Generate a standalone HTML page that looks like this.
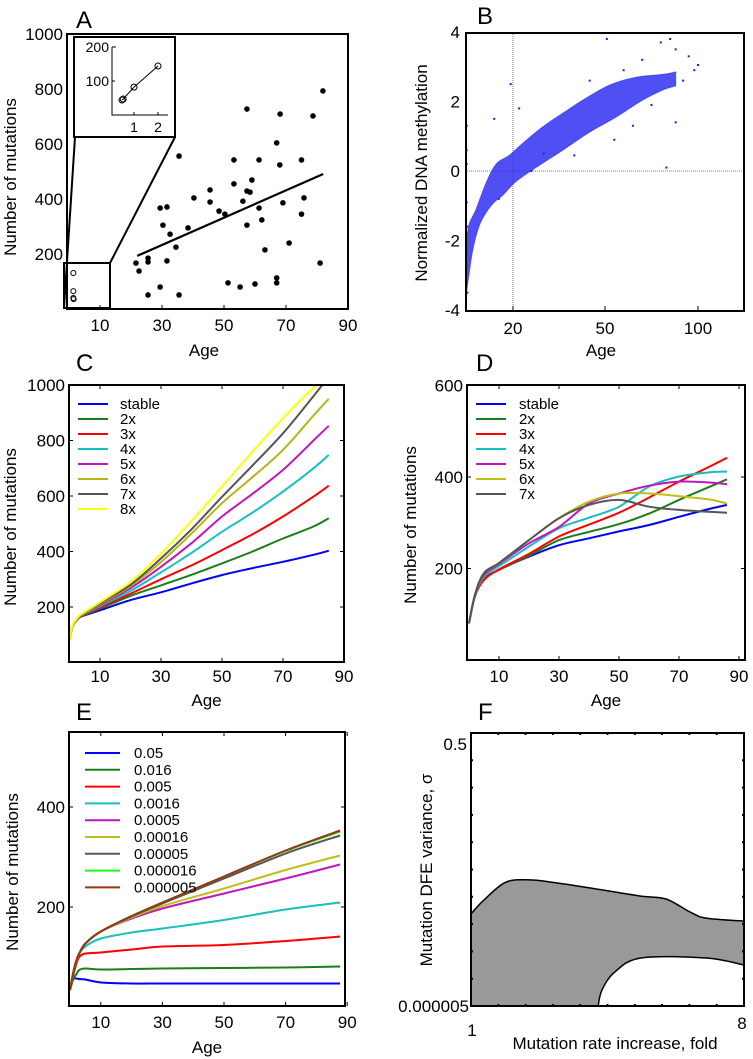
<!DOCTYPE html>
<html><head><meta charset="utf-8"><style>
html,body{margin:0;padding:0;background:#fff;}
svg{display:block;font-family:"Liberation Sans",sans-serif;}
</style></head><body>
<svg id="fig" width="753" height="1059" viewBox="0 0 753 1059" xmlns="http://www.w3.org/2000/svg"></svg>
<script>
// ---------- Panel A data ----------
const aAges=[81.9,57.4,68.1,78.7,67,35.5,53.2,61.3,75,68,59,53.2,45.5,57.4,58.4,40.3,75.8,45.5,56.1,69,29.4,31.6,61.3,48.4,50.3,75,62.2,30.3,57.4,38.4,32.6,34.5,71,63.2,25.5,25.5,31.6,21.6,22.6,81,51.3,55.2,60,67,67,29.4,25.5,35.5];
const aMuts=[793,727,709,702,604,556,542,542,542,524,469,455,433,429,425,404,404,389,392,386,367,371,367,356,345,345,324,305,305,295,272,225,240,215,185,171,175,167,138,167,95,80,91,113,95,80,51,51];
const aFitAges=[22,82];
const aFitVals=[193,491];
const aChildAges=[1.4,1.4,1.4,1.5];
const aChildMuts=[131,65,40,36];
const insetX=[0.5,0.55,1,2];
const insetY=[44,47,82,144];
const aYTicks=[200,400,600,800,1000];
const aXTicks=[10,30,50,70,90];
// ---------- Panel B data ----------
const bBandAges=[0.3,1.5,4.3,8.5,12.8,18.4,23.2,29.7,36.2,42.8,52.3,66.7,81,88];
const bBandUpper=[-1.9,-1.5,-1.1,-0.35,0.2,0.45,0.8,1.27,1.66,2.04,2.47,2.7,2.78,2.85];
const bBandLowAges=[0.3,2.8,5.5,8.5,12,15.6,21,27.5,36.2,45,55.9,70.2,81,88];
const bBandLower=[-3.45,-2.3,-1.6,-1.2,-0.9,-0.7,-0.3,0.1,0.6,1.12,1.55,2.04,2.33,2.45];
const bOutAges=[0.3,0.3,0.3,0.3,0.5,0.6,12,22,51,85,80,88,95,100,98,60,88,55,30,19,83,92,70,45,14,26,40,65,75];
const bOutVals=[1.3,0.6,0.2,-0.9,-1.6,-3.5,1.5,1.8,3.8,3.8,3.7,3.5,3.3,3.05,2.9,2.9,1.4,0.9,0.5,2.5,0.1,2.6,3.2,2.6,-0.8,0.0,0.45,1.3,1.9];
const bYTicks=[4,2,0,-2,-4];
const bXTicks=[20,50,100];
// ---------- Panel C data ----------
const cAges=[0,1,3,5,10,20,30,40,50,60,70,80,85];
const cStable=[81,130,160,170,188,225,253,285,315,340,363,388,403];
const c2x=[81,130,160,172,194,240,278,316,357,400,447,490,520];
const c3x=[81,130,161,174,198,248,300,350,405,462,526,598,637];
const c4x=[81,131,162,176,203,258,325,395,471,540,616,700,748];
const c5x=[81,131,163,178,207,268,345,430,526,608,694,800,853];
const c6x=[81,132,164,179,210,275,362,465,574,668,766,890,950];
const c7x=[81,132,165,180,213,280,375,480,597,710,826,960,1030];
const c8x=[81,133,166,182,217,290,392,510,634,760,880,990,1020];
const cLabels=["stable","2x","3x","4x","5x","6x","7x","8x"];
const cYTicks=[200,400,600,800,1000];
// ---------- Panel D data ----------
const dAges=[0,2,5,10,20,30,40,50,60,70,80,86];
const dStable=[80,140,178,197,226,251,266,281,295,313,330,339];
const d2x=[80,140,177,197,228,262,280,297,320,350,378,395];
const d3x=[80,140,175,198,232,270,296,322,355,390,422,442];
const d4x=[80,141,182,205,248,288,311,335,379,401,410,412];
const d5x=[80,142,186,210,255,291,342,364,381,390,388,384];
const d6x=[80,143,190,212,262,310,346,364,364,358,351,342];
const d7x=[80,143,190,212,262,310,339,350,335,328,324,322];
const dLabels=["stable","2x","3x","4x","5x","6x","7x"];
const dYTicks=[200,400,600];
// ---------- Panel E data ----------
const eAges=[0,1,2,3,5,10,20,30,50,70,87.7];
const e005=[34,55,57,56,55,49,47,47,47,47,47];
const e0016=[34,55,65,74,77,75,76,77,78,79,81];
const e0005=[34,62,85,100,107,109,115,121,124,132,141];
const e00016=[34,64,90,107,121,137,149,157,174,195,209];
const e00005=[34,67,92,107,127,151,177,197,227,257,285];
const e000016=[34,67,92,107,127,151,179,202,237,274,303];
const e000005=[34,67,92,107,127,151,181,207,257,307,343];
const e0000016=[34,67,92,107,127,151,182,209,261,312,351];
const e00000005=[34,67,92,107,127,151,182,209,261,313,353];
const eLabels=["0.05","0.016","0.005","0.0016","0.0005","0.00016","0.00005","0.000016","0.000005"];
const eYTicks=[200,400];
// ---------- Panel F data ----------
const fUpperFold=[1,1.33,1.9,2.51,3.05,4.08,5.33,6.0,6.62,7.03,8];
const fUpperIdx=[3.37,3.88,4.54,4.62,4.54,4.32,4.03,3.92,3.44,3.22,3.11];
const fLowerFold=[4.26,4.36,4.69,5.36,7.03,8];
const fLowerIdx=[0,0.59,1.25,1.76,1.76,1.5];

const NS="http://www.w3.org/2000/svg";
const svg=document.getElementById('fig');
function mk(tag,attrs,parent){const e=document.createElementNS(NS,tag);for(const k in attrs)e.setAttribute(k,attrs[k]);(parent||svg).appendChild(e);return e;}
function txt(s,x,y,size,anchor,parent){const t=mk('text',{x:x,y:y,'font-size':size,'text-anchor':anchor||'middle',fill:'#000'},parent);t.textContent=s;return t;}
function smooth(pts){let d='M'+pts[0][0].toFixed(1)+','+pts[0][1].toFixed(1);
 for(let i=0;i<pts.length-1;i++){const p0=pts[i-1]||pts[i],p1=pts[i],p2=pts[i+1],p3=pts[i+2]||p2;
  const c1=[p1[0]+(p2[0]-p0[0])/6,p1[1]+(p2[1]-p0[1])/6],c2=[p2[0]-(p3[0]-p1[0])/6,p2[1]-(p3[1]-p1[1])/6];
  d+=' C'+c1[0].toFixed(1)+','+c1[1].toFixed(1)+' '+c2[0].toFixed(1)+','+c2[1].toFixed(1)+' '+p2[0].toFixed(1)+','+p2[1].toFixed(1);}
 return d;}
function clip(id,x,y,w,h){const d=mk('defs',{});const c=mk('clipPath',{id:id},d);mk('rect',{x:x,y:y,width:w,height:h},c);}
function box(x,y,w,h,name){const r=mk('rect',{x:x,y:y,width:w,height:h,fill:'none',stroke:'#000','stroke-width':2});

}
function panelLetter(s,x,y){const t=txt(s,x,y,24,'start');

}

// ================= Panel A =================
const ax=a=>69+a*3.1, ay=n=>309-n*0.275;
const ix=v=>110+v*24, iy=n=>115-n*0.34;
panelLetter('A',76,28);
box(67,34,281,275,'panel-a-frame');
aYTicks.forEach(v=>{const t=txt(String(v),63,ay(v)+6,17,'end');

});
aXTicks.forEach(v=>{const t=txt(String(v),ax(v),331,17,'middle');


const l=mk('line',{x1:ax(v),x2:ax(v),y1:309,y2:305,stroke:'#000','stroke-width':1});

});
{const t=txt('Number of mutations',0,0,17,'middle');t.setAttribute('transform','translate(16,177) rotate(-90)');

}
{const t=txt('Age',204,356,17,'middle');

}
aAges.forEach((a,i)=>{const c=mk('circle',{cx:ax(a),cy:ay(aMuts[i]),r:2.8,fill:'#000'});

});
{const l=mk('line',{x1:ax(aFitAges[0]),y1:ay(aFitVals[0]),x2:ax(aFitAges[1]),y2:ay(aFitVals[1]),stroke:'#000','stroke-width':2.2});

}
aChildAges.forEach((a,i)=>{const c=mk('circle',{cx:ax(a),cy:ay(aChildMuts[i]),r:2.5,fill:'none',stroke:'#000','stroke-width':1});

});
{const r=mk('rect',{x:64,y:263,width:46,height:45,fill:'none',stroke:'#000','stroke-width':2});


const p=mk('path',{d:'M64,308 L75,137 M110,263 L175,137',stroke:'#000','stroke-width':2,fill:'none'});


const ib=mk('rect',{x:74,y:37,width:101,height:100,fill:'#fff',stroke:'#000','stroke-width':2});


const ia=mk('path',{d:'M112,47 L112,115 L168,115 M112,47 L116,47 M112,81 L115,81 M134,115 L134,112 M158,115 L158,112',stroke:'#000','stroke-width':1,fill:'none'});


[['200',47],['100',81]].forEach(([s,y])=>{const t=txt(s,109,y+5,14,'end');

});
[['1',134],['2',158]].forEach(([s,x])=>{const t=txt(s,x,132,14,'middle');

});
const il=mk('polyline',{points:insetX.map((v,i)=>ix(v)+','+iy(insetY[i])).join(' '),fill:'none',stroke:'#000','stroke-width':1});


insetX.forEach((v,i)=>{const c=mk('circle',{cx:ix(v),cy:iy(insetY[i]),r:3,fill:'none',stroke:'#000','stroke-width':1});

});}

// ================= Panel B =================
const bAnchA=[0,20,50,100,130], bAnchP=[466,513,605,698,744];
function bx(a){for(let i=0;i<bAnchA.length-1;i++){if(a<=bAnchA[i+1])return bAnchP[i]+(a-bAnchA[i])/(bAnchA[i+1]-bAnchA[i])*(bAnchP[i+1]-bAnchP[i]);}return 744;}
const by=v=>171-v*34.75;
panelLetter('B',477,24);
{const g=mk('path',{d:'M513,34 L513,310 M467,171 L743,171',stroke:'#555','stroke-width':0.8,'stroke-dasharray':'1,1',fill:'none'});

}
{const up=bBandAges.map((a,i)=>[bx(a),by(bBandUpper[i])]);
const lo=bBandLowAges.map((a,i)=>[bx(a),by(bBandLower[i])]).reverse();
const d=smooth(up)+' L'+lo[0][0].toFixed(1)+','+lo[0][1].toFixed(1)+' '+smooth(lo).replace(/^M[^ ]+/,'')+' Z';
const p=mk('path',{d:d,fill:'#2828f0','fill-opacity':0.82,stroke:'#2828f0','stroke-width':1,'stroke-opacity':0.6});

}
bOutAges.forEach((a,i)=>{const r=mk('rect',{x:bx(a)-1,y:by(bOutVals[i])-1,width:2,height:2,fill:'#1a1aff'});

});
box(466,33,278,278,'panel-b-frame');
bYTicks.forEach(v=>{const t=txt(String(v),460,by(v)+6,17,'end');

});
bXTicks.forEach(v=>{const t=txt(String(v),bx(v),334,17,'middle');


const l=mk('line',{x1:bx(v),x2:bx(v),y1:311,y2:306,stroke:'#000','stroke-width':1});

});
{const t=txt('Normalized DNA methylation',0,0,17,'middle');t.setAttribute('transform','translate(427,173) rotate(-90)');

}
{const t=txt('Age',601,356,17,'middle');

}

// ----- generic line panel -----
function linePanel(o){
 clip(o.id,o.x0,o.y0,o.x1-o.x0,o.y1-o.y0);
 o.yTicks.forEach(v=>{const t=txt(String(v),o.x0-4,o.sy(v)+6,17,'end');
 
 
 const l=mk('path',{d:'M'+o.x0+','+o.sy(v)+' h4 M'+o.x1+','+o.sy(v)+' h-4',stroke:'#000','stroke-width':1});
 
 });
 [10,30,50,70,90].forEach(v=>{const t=txt(String(v),o.sx(v),o.xLabY,17,'middle');
 
 
 const l=mk('path',{d:'M'+o.sx(v)+','+o.y1+' v-4 M'+o.sx(v)+','+o.y0+' v4',stroke:'#000','stroke-width':1});
 
 });
 o.series.forEach((s,i)=>{const p=mk('path',{d:smooth(o.ages.map((a,j)=>[o.sx(a),o.sy(s[j])])),fill:'none',stroke:o.colors[i],'stroke-width':2,'clip-path':'url(#'+o.id+')'});
 
 
 const ly=o.legY+i*o.legDy;
 const ll=mk('line',{x1:o.legX,x2:o.legX+o.legW,y1:ly,y2:ly,stroke:o.colors[i],'stroke-width':2});
 
 
 const lt=txt(o.labels[i],o.legX+o.legW+o.legGap,ly+5,15,'start');
 
 });
 box(o.x0,o.y0,o.x1-o.x0,o.y1-o.y0,o.id+'-frame');
 const yt=txt('Number of mutations',0,0,17,'middle');yt.setAttribute('transform','translate('+o.yTitleX+','+o.yTitleY+') rotate(-90)');
 
 
 const xt=txt('Age',(o.x0+o.x1)/2,o.xTitleY,17,'middle');
 
 
}
// ================= Panel C =================
panelLetter('C',76,371);
linePanel({id:'c',x0:69,y0:385,x1:344,y1:662,sx:a=>69.5+a*3.05,sy:n=>662.5-n*0.2775,yTicks:cYTicks,xLabY:682,
 ages:cAges,series:[cStable,c2x,c3x,c4x,c5x,c6x,c7x,c8x],labels:cLabels,
 colors:['#0000ff','#1a7f1a','#ff0000','#17bfbf','#bf17bf','#b5b517','#555555','#ffff00'],
 legX:78,legW:30,legGap:12,legY:404,legDy:15,yTitleX:16,yTitleY:527,xTitleY:706});
// ================= Panel D =================
panelLetter('D',476,371);
linePanel({id:'d',x0:467,y0:385,x1:745,y1:660,sx:a=>469+a*3.0,sy:n=>660-n*0.4575,yTicks:dYTicks,xLabY:682,
 ages:dAges,series:[dStable,d2x,d3x,d4x,d5x,d6x,d7x],labels:dLabels,
 colors:['#0000ff','#1a7f1a','#ff0000','#17bfbf','#bf17bf','#bfbf17','#555555'],
 legX:476,legW:30,legGap:13,legY:404,legDy:15,yTitleX:416,yTitleY:525,xTitleY:706});
// ================= Panel E =================
panelLetter('E',76,720);
linePanel({id:'e',x0:69,y0:732,x1:345,y1:1006,sx:a=>70+a*3.08,sy:n=>1007-n*0.5,yTicks:eYTicks,xLabY:1028,
 ages:eAges,series:[e005,e0016,e0005,e00016,e00005,e000016,e000005,e0000016,e00000005],labels:eLabels,
 colors:['#0000ff','#1a7f1a','#ff0000','#17bfbf','#bf17bf','#bfbf17','#555555','#17ff17','#993311'],
 legX:85,legW:35,legGap:14,legY:753,legDy:16.8,yTitleX:18,yTitleY:872,xTitleY:1053});
// ================= Panel F =================
const fx=f=>471+(f-1)*39, fy=i=>1006-i*27.3;
panelLetter('F',478,720);
{const up=fUpperFold.map((f,i)=>[fx(f),fy(fUpperIdx[i])]);
const lo=fLowerFold.map((f,i)=>[fx(f),fy(fLowerIdx[i])]);
const loRev=lo.slice().reverse();
let d=smooth(up)+' L'+loRev[0][0]+','+loRev[0][1]+' '+smooth(loRev).replace(/^M[^ ]+/,'')+' L'+fx(1)+','+fy(0)+' Z';
const a=mk('path',{d:d,fill:'#999999',stroke:'none'});


const u=mk('path',{d:smooth(up),fill:'none',stroke:'#000','stroke-width':1.5});


const l=mk('path',{d:smooth(lo),fill:'none',stroke:'#000','stroke-width':1.5});

}
for(let i=1;i<10;i++){const t=mk('path',{d:'M471,'+fy(i)+' h2 M744,'+fy(i)+' h-2 M'+(471+i*27.3)+',1006 v-2 M'+(471+i*27.3)+',733 v2',stroke:'#000','stroke-width':2});

}
box(471,733,273,273,'panel-f-frame');
{const t=txt('0.5',467,750,17,'end');


const t2=txt('0.000005',469,1012,17,'end');


const t3=txt('1',472,1036,17,'middle');


const t4=txt('8',742,1029,17,'middle');


const xt=txt('Mutation rate increase, fold',615,1049,17,'middle');


const yt=txt('Mutation DFE variance, σ',0,0,17,'middle');yt.setAttribute('transform','translate(432,870) rotate(-90)');

}
</script>
</body></html>
